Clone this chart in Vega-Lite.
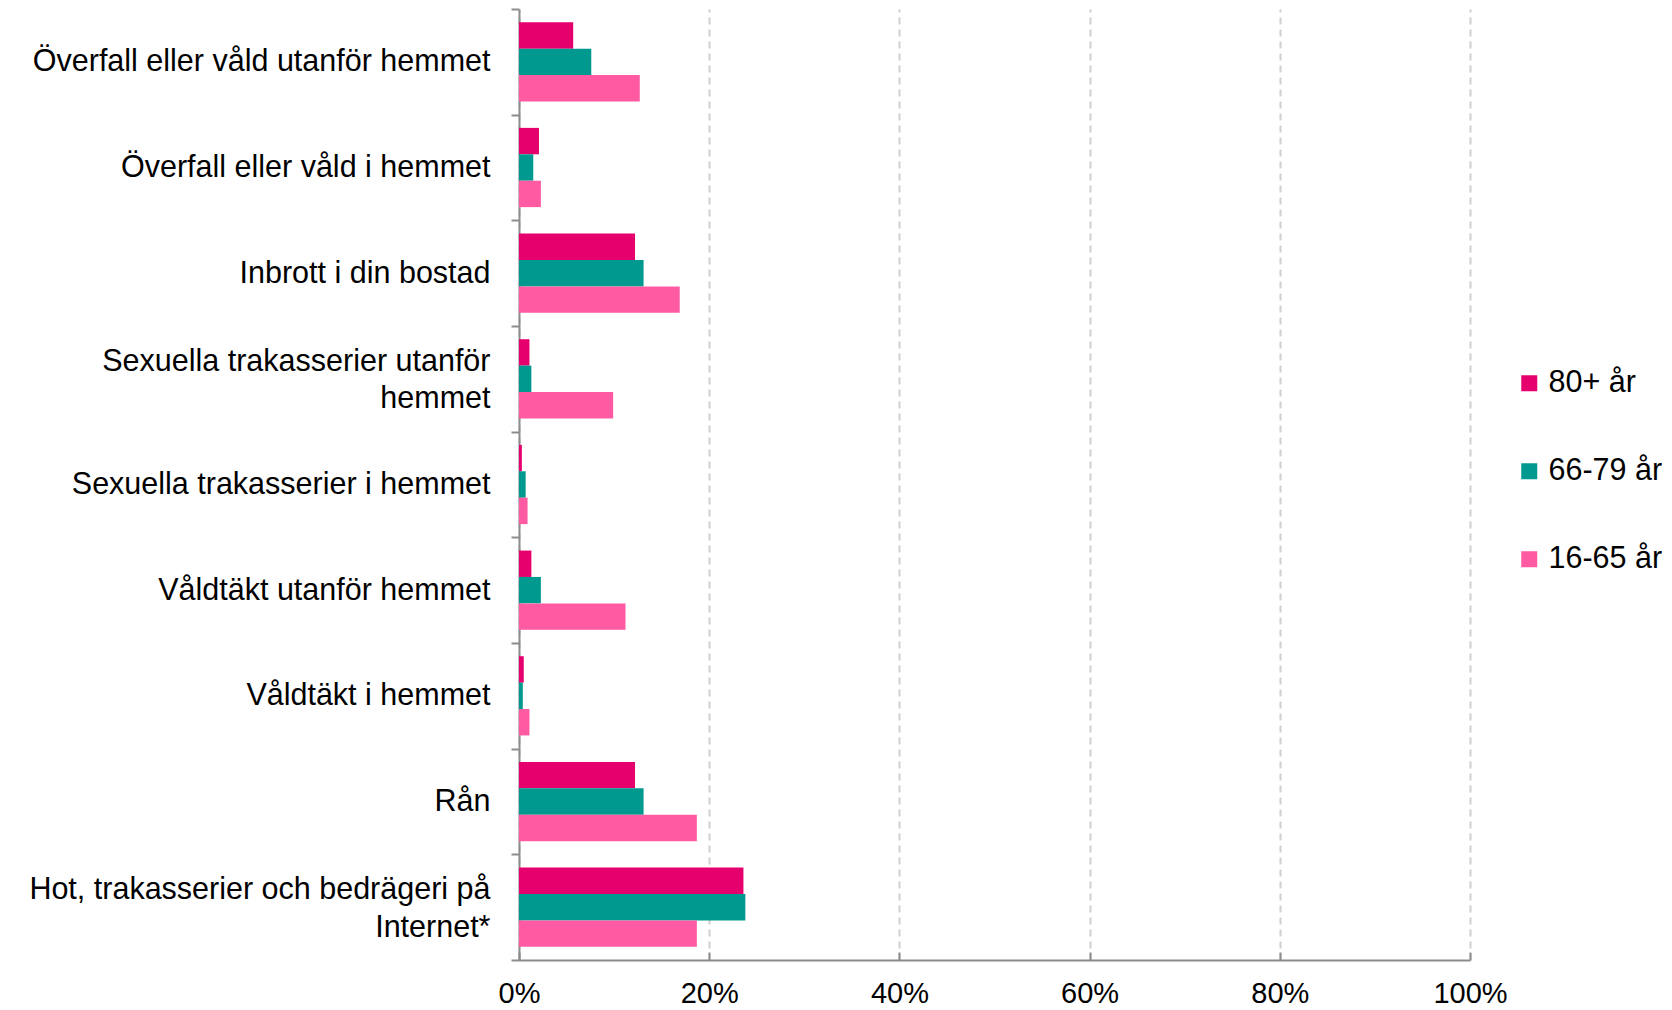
{
  "$schema": "https://vega.github.io/schema/vega-lite/v6.json",
  "width": 951,
  "height": 951,
  "autosize": {"type": "none"},
  "padding": {"left": 519, "top": 9, "right": 202, "bottom": 50},
  "background": "white",
  "config": {
    "view": {"stroke": null},
    "font": "Liberation Sans",
    "axis": {"labelFont": "Liberation Sans", "labelColor": "#000000"},
    "legend": {"labelFont": "Liberation Sans"}
  },
  "data": {
    "values": [
      {"kategori": "Överfall eller våld utanför hemmet", "grupp": "80+ år", "andel": 5.7},
      {"kategori": "Överfall eller våld utanför hemmet", "grupp": "66-79 år", "andel": 7.6},
      {"kategori": "Överfall eller våld utanför hemmet", "grupp": "16-65 år", "andel": 12.7},
      {"kategori": "Överfall eller våld i hemmet", "grupp": "80+ år", "andel": 2.1},
      {"kategori": "Överfall eller våld i hemmet", "grupp": "66-79 år", "andel": 1.5},
      {"kategori": "Överfall eller våld i hemmet", "grupp": "16-65 år", "andel": 2.3},
      {"kategori": "Inbrott i din bostad", "grupp": "80+ år", "andel": 12.2},
      {"kategori": "Inbrott i din bostad", "grupp": "66-79 år", "andel": 13.1},
      {"kategori": "Inbrott i din bostad", "grupp": "16-65 år", "andel": 16.9},
      {"kategori": "Sexuella trakasserier utanför hemmet", "grupp": "80+ år", "andel": 1.1},
      {"kategori": "Sexuella trakasserier utanför hemmet", "grupp": "66-79 år", "andel": 1.3},
      {"kategori": "Sexuella trakasserier utanför hemmet", "grupp": "16-65 år", "andel": 9.9},
      {"kategori": "Sexuella trakasserier i hemmet", "grupp": "80+ år", "andel": 0.3},
      {"kategori": "Sexuella trakasserier i hemmet", "grupp": "66-79 år", "andel": 0.7},
      {"kategori": "Sexuella trakasserier i hemmet", "grupp": "16-65 år", "andel": 0.9},
      {"kategori": "Våldtäkt utanför hemmet", "grupp": "80+ år", "andel": 1.3},
      {"kategori": "Våldtäkt utanför hemmet", "grupp": "66-79 år", "andel": 2.3},
      {"kategori": "Våldtäkt utanför hemmet", "grupp": "16-65 år", "andel": 11.2},
      {"kategori": "Våldtäkt i hemmet", "grupp": "80+ år", "andel": 0.5},
      {"kategori": "Våldtäkt i hemmet", "grupp": "66-79 år", "andel": 0.4},
      {"kategori": "Våldtäkt i hemmet", "grupp": "16-65 år", "andel": 1.1},
      {"kategori": "Rån", "grupp": "80+ år", "andel": 12.2},
      {"kategori": "Rån", "grupp": "66-79 år", "andel": 13.1},
      {"kategori": "Rån", "grupp": "16-65 år", "andel": 18.7},
      {"kategori": "Hot, trakasserier och bedrägeri på Internet*", "grupp": "80+ år", "andel": 23.6},
      {"kategori": "Hot, trakasserier och bedrägeri på Internet*", "grupp": "66-79 år", "andel": 23.8},
      {"kategori": "Hot, trakasserier och bedrägeri på Internet*", "grupp": "16-65 år", "andel": 18.7}
    ]
  },
  "mark": {"type": "bar"},
  "encoding": {
    "y": {
      "field": "kategori",
      "type": "nominal",
      "sort": null,
      "title": null,
      "scale": {"paddingInner": 0, "paddingOuter": 0},
      "axis": {
        "tickBand": "extent",
        "domainColor": "#8c8c8c",
        "domainWidth": 2,
        "tickColor": "#8c8c8c",
        "tickWidth": 2,
        "tickSize": 8,
        "labelPadding": 21,
        "labelFontSize": 30.5,
        "labelLimit": 600,
        "labelLineHeight": 37.5,
        "labelBaseline": "middle",
        "labelOffset": {
          "condition": {
            "test": "datum.value == 'Sexuella trakasserier utanför hemmet' || datum.value == 'Hot, trakasserier och bedrägeri på Internet*'",
            "value": -17.5
          },
          "value": 0
        },
        "grid": false,
        "labelExpr": "datum.label == 'Sexuella trakasserier utanför hemmet' ? ['Sexuella trakasserier utanför', 'hemmet'] : datum.label == 'Hot, trakasserier och bedrägeri på Internet*' ? ['Hot, trakasserier och bedrägeri på', 'Internet*'] : datum.label"
      }
    },
    "yOffset": {
      "field": "grupp",
      "type": "nominal",
      "sort": ["80+ år", "66-79 år", "16-65 år"],
      "scale": {"paddingInner": 0, "paddingOuter": 0.5}
    },
    "x": {
      "field": "andel",
      "type": "quantitative",
      "title": null,
      "scale": {"domain": [0, 100], "nice": false},
      "axis": {
        "values": [0, 20, 40, 60, 80, 100],
        "labelExpr": "datum.value + '%'",
        "labelFontSize": 29,
        "labelFlush": false,
        "labelPadding": 27,
        "domainColor": "#8c8c8c",
        "domainWidth": 2,
        "tickColor": "#8c8c8c",
        "tickWidth": 2,
        "tickSize": -8,
        "grid": true,
        "gridColor": "#d0d0d0",
        "gridWidth": 2,
        "gridDash": [7, 5]
      }
    },
    "color": {
      "field": "grupp",
      "type": "nominal",
      "sort": ["80+ år", "66-79 år", "16-65 år"],
      "scale": {
        "domain": ["80+ år", "66-79 år", "16-65 år"],
        "range": ["#E5006D", "#00998F", "#FF5AA2"]
      },
      "legend": {
        "title": null,
        "orient": "none",
        "legendX": 995,
        "legendY": 359,
        "symbolType": "square",
        "symbolSize": 256,
        "symbolStrokeWidth": 0,
        "labelFontSize": 30.5,
        "labelColor": "#000000",
        "labelOffset": 4,
        "rowPadding": 57,
        "labelLimit": 300
      }
    }
  }
}
